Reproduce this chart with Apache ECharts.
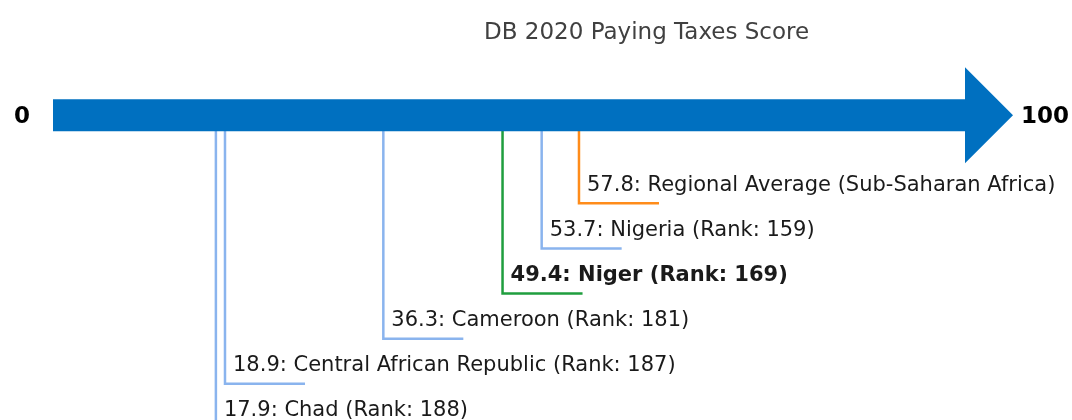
<!DOCTYPE html>
<html>
<head>
<meta charset="utf-8">
<script src="https://cdn.jsdelivr.net/npm/echarts@6/dist/echarts.min.js"></script>
<style>
  html, body { margin: 0; padding: 0; background: #fff; }
  #chart { width: 1072px; height: 420px; }
</style>
</head>
<body>
<div id="chart"></div>
<script>
// 数据
const chartTitle = "DB 2020 Paying Taxes Score";
const axisEnds = [0, 100];
const names = [
  "Regional Average (Sub-Saharan Africa)",
  "Nigeria",
  "Niger",
  "Cameroon",
  "Central African Republic",
  "Chad",
];
const scores = [57.8, 53.7, 49.4, 36.3, 18.9, 17.9];
const ranks = [null, 159, 169, 181, 187, 188];
const kinds = ["average", "peer", "focus", "peer", "peer", "peer"];

const FONT = "'DejaVu Sans', sans-serif";
const kindColor = { average: "#FF8C1A", peer: "#8AB4EE", focus: "#1F9E3E" };
const arrowLevel = -1.95; // 箭头所在行

// 按分数从高到低排列行
const order = scores.map((s, i) => i).sort((a, b) => scores[b] - scores[a]);
const leaderData = order.map((i, level) => [scores[i], level, i]);

function labelText(i) {
  let str = scores[i].toFixed(1) + ": " + names[i];
  if (ranks[i] != null) str += " (Rank: " + ranks[i] + ")";
  return str;
}

const chart = echarts.init(document.getElementById("chart"));
chart.setOption({
  animation: false,
  title: {
    text: chartTitle,
    left: 479,
    top: 17,
    textStyle: { fontFamily: FONT, fontSize: 23, fontWeight: "normal", color: "#404040" },
  },
  grid: { left: 53, right: 109, top: 0, bottom: 0 },
  xAxis: { type: "value", min: axisEnds[0], max: axisEnds[1], show: false },
  yAxis: { type: "value", min: -4.5, max: 4.8, inverse: true, show: false },
  series: [
    {
      type: "custom",
      clip: false,
      z: 1,
      data: leaderData,
      renderItem: function (params, api) {
        const i = api.value(2);
        const top = api.coord([api.value(0), arrowLevel]);
        const bot = api.coord([api.value(0), api.value(1)]);
        const color = kindColor[kinds[i]];
        return {
          type: "group",
          children: [
            {
              type: "polyline",
              shape: { points: [[top[0], top[1]], [bot[0], bot[1]], [bot[0] + 80, bot[1]]] },
              style: { stroke: color, lineWidth: 2.5, fill: null },
            },
            {
              type: "text",
              style: {
                text: labelText(i),
                x: bot[0] + 8,
                y: bot[1] - 18,
                align: "left",
                verticalAlign: "middle",
                fill: "#1a1a1a",
                font: (kinds[i] === "focus" ? "bold " : "") + "21px " + FONT,
              },
            },
          ],
        };
      },
    },
    {
      type: "custom",
      clip: false,
      z: 2,
      data: [[axisEnds[0], axisEnds[1]]],
      renderItem: function (params, api) {
        const s = api.coord([api.value(0), arrowLevel]);
        const e = api.coord([api.value(1), arrowLevel]);
        const y = s[1];
        const hx = e[0] + 2;
        return {
          type: "group",
          children: [
            {
              type: "polygon",
              shape: {
                points: [
                  [s[0], y - 16], [hx, y - 16], [hx, y - 48], [e[0] + 50, y],
                  [hx, y + 48], [hx, y + 16], [s[0], y + 16],
                ],
              },
              style: { fill: "#0070C0" },
            },
            {
              type: "text",
              style: {
                text: String(api.value(0)), x: s[0] - 23, y: y + 2,
                align: "right", verticalAlign: "middle",
                fill: "#000", font: "bold 23px " + FONT,
              },
            },
            {
              type: "text",
              style: {
                text: String(api.value(1)), x: e[0] + 58, y: y + 2,
                align: "left", verticalAlign: "middle",
                fill: "#000", font: "bold 23px " + FONT,
              },
            },
          ],
        };
      },
    },
  ],
});
</script>
</body>
</html>
